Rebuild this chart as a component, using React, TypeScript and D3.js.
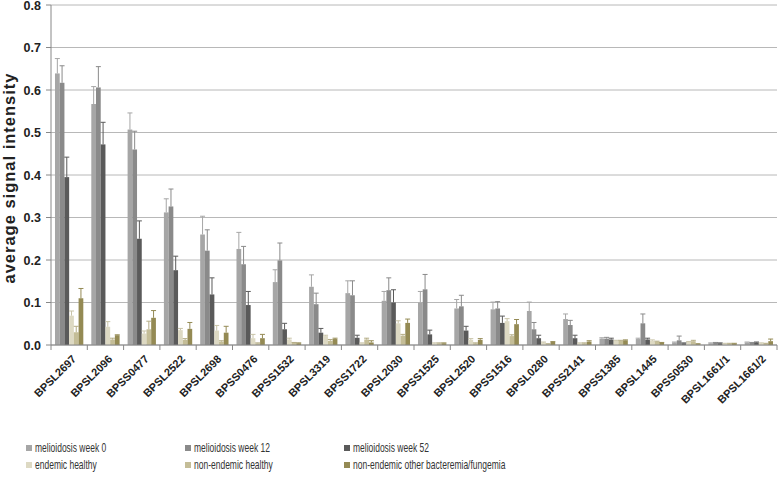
import * as d3 from "d3"

const categories = [
  "BPSL2697", "BPSL2096", "BPSS0477", "BPSL2522", "BPSL2698", "BPSS0476", "BPSS1532",
  "BPSL3319", "BPSS1722", "BPSL2030", "BPSS1525", "BPSL2520", "BPSS1516", "BPSL0280",
  "BPSS2141", "BPSS1385", "BPSL1445", "BPSS0530", "BPSL1661/1", "BPSL1661/2",
]

const seriesNames = [
  "melioidosis week 0",
  "melioidosis week 12",
  "melioidosis week 52",
  "endemic healthy",
  "non-endemic healthy",
  "non-endemic other bacteremia/fungemia",
]

const week0 = [0.639, 0.567, 0.507, 0.312, 0.26, 0.226, 0.148, 0.137, 0.122, 0.104, 0.1, 0.086, 0.084, 0.08, 0.061, 0.015, 0.014, 0.006, 0.004, 0.006]
const week0Err = [0.035, 0.041, 0.039, 0.032, 0.043, 0.039, 0.029, 0.028, 0.029, 0.022, 0.026, 0.021, 0.017, 0.021, 0.012, 0.002, 0.002, 0.001, 0.001, 0.001]
const week12 = [0.617, 0.606, 0.46, 0.326, 0.222, 0.19, 0.199, 0.096, 0.117, 0.129, 0.131, 0.091, 0.086, 0.037, 0.047, 0.015, 0.051, 0.011, 0.005, 0.005]
const week12Err = [0.04, 0.049, 0.043, 0.041, 0.049, 0.042, 0.041, 0.026, 0.034, 0.029, 0.035, 0.026, 0.016, 0.016, 0.011, 0.003, 0.022, 0.01, 0.001, 0.001]
const week52 = [0.395, 0.472, 0.25, 0.176, 0.119, 0.094, 0.037, 0.029, 0.017, 0.1, 0.025, 0.034, 0.052, 0.016, 0.016, 0.013, 0.013, 0.004, 0.004, 0.006]
const week52Err = [0.047, 0.052, 0.042, 0.033, 0.039, 0.032, 0.014, 0.01, 0.006, 0.03, 0.01, 0.01, 0.016, 0.007, 0.007, 0.003, 0.003, 0.001, 0.001, 0.001]
const endemic = [0.069, 0.043, 0.027, 0.035, 0.034, 0.016, 0.013, 0.021, 0.004, 0.051, 0.004, 0.012, 0.056, 0.006, 0.004, 0.01, 0.01, 0.007, 0.003, 0.004]
const endemicErr = [0.011, 0.012, 0.006, 0.004, 0.012, 0.009, 0.003, 0.002, 0.001, 0.006, 0.001, 0.003, 0.006, 0.001, 0.001, 0.001, 0.002, 0.001, 0.001, 0.001]
const nonEndemic = [0.03, 0.013, 0.037, 0.012, 0.008, 0.004, 0.005, 0.01, 0.013, 0.022, 0.004, 0.004, 0.021, 0.002, 0.004, 0.01, 0.008, 0.009, 0.003, 0.003]
const nonEndemicErr = [0.014, 0.003, 0.019, 0.003, 0.002, 0.001, 0.001, 0.003, 0.003, 0.003, 0.001, 0.001, 0.003, 0.001, 0.001, 0.001, 0.001, 0.002, 0.001, 0.001]
const other = [0.11, 0.023, 0.064, 0.038, 0.029, 0.016, 0.004, 0.014, 0.006, 0.052, 0.004, 0.012, 0.049, 0.007, 0.008, 0.011, 0.005, 0.002, 0.003, 0.009]
const otherErr = [0.023, 0.001, 0.017, 0.015, 0.015, 0.009, 0.001, 0.002, 0.004, 0.009, 0.001, 0.003, 0.011, 0.001, 0.002, 0.001, 0.001, 0.001, 0.001, 0.005]

const yTicks = [0, 0.1, 0.2, 0.3, 0.4, 0.5, 0.6, 0.7, 0.8]

const colors = ["#a6a6a6", "#8a8a8a", "#5a5a5a", "#ddd9c3", "#c4bd97", "#948a54"]
const errColors = ["#a6a6a6", "#8a8a8a", "#5a5a5a", "#c9c4a8", "#b3ab84", "#948a54"]

const values = [week0, week12, week52, endemic, nonEndemic, other]
const errors = [week0Err, week12Err, week52Err, endemicErr, nonEndemicErr, otherErr]

const W = 780
const H = 480
const left = 51
const right = 777
const top = 5
const bottom = 345

export default function App() {
  const x = d3.scaleBand<string>().domain(categories).range([left, right])
  const bw = x.bandwidth()
  const xs = d3.scaleBand<number>()
    .domain(d3.range(seriesNames.length))
    .range([bw * 0.11, bw * 0.89])
  const y = d3.scaleLinear().domain([0, 0.8]).range([bottom, top])

  const font = "'Liberation Sans', Arial, sans-serif"

  return (
    <svg width={W} height={H} style={{ position: "absolute", left: 0, top: 0, background: "#fff" }}>
      {/* grid */}
      {yTicks.map(t => (
        <line key={"g" + t} x1={left} x2={right} y1={y(t)} y2={y(t)} stroke="#b8b8b8" strokeWidth={1} />
      ))}
      {/* bars */}
      {values.map((vals, si) => (
        <g key={"s" + si}>
          {categories.map((c, ci) => {
            const bx = x(c)! + xs(si)!
            const w = xs.bandwidth()
            return (
              <rect key={c} x={bx} y={y(vals[ci])} width={w} height={bottom - y(vals[ci])} fill={colors[si]} />
            )
          })}
        </g>
      ))}
      {/* error bars */}
      {values.map((vals, si) => (
        <g key={"e" + si} stroke={errColors[si]} strokeWidth={1}>
          {categories.map((c, ci) => {
            const cx = x(c)! + xs(si)! + xs.bandwidth() / 2
            const y0 = y(vals[ci])
            const y1 = y(vals[ci] + errors[si][ci])
            return (
              <g key={c}>
                <line x1={cx} x2={cx} y1={y0} y2={y1} />
                <line x1={cx - 2.5} x2={cx + 2.5} y1={y1} y2={y1} />
              </g>
            )
          })}
        </g>
      ))}
      {/* y axis */}
      <line x1={left} x2={left} y1={top} y2={bottom} stroke="#888" />
      {yTicks.map(t => (
        <g key={"t" + t}>
          <line x1={left - 5} x2={left} y1={y(t)} y2={y(t)} stroke="#888" />
          <text x={41} y={y(t)} dy="0.36em" textAnchor="end" fontFamily={font} fontWeight="bold" fontSize={12.5} fill="#222">
            {d3.format(".1f")(t)}
          </text>
        </g>
      ))}
      <text
        transform={`translate(15,${(top + bottom) / 2 + 3}) rotate(-90)`}
        textAnchor="middle"
        fontFamily={font}
        fontWeight="bold"
        fontSize={16.5}
        letterSpacing={1}
        fill="#222"
      >
        average signal intensity
      </text>
      {/* x axis */}
      <line x1={left} x2={right} y1={bottom} y2={bottom} stroke="#888" />
      {[...categories.map(c => x(c)!), right].map((px, i) => (
        <line key={"xt" + i} x1={px} x2={px} y1={bottom} y2={bottom + 5} stroke="#888" />
      ))}
      {categories.map(c => {
        const cx = x(c)! + bw / 2 + 5
        return (
          <text
            key={"l" + c}
            transform={`translate(${cx},${bottom + 12}) rotate(-45)`}
            textAnchor="end"
            dy="0.35em"
            fontFamily={font}
            fontWeight="bold"
            fontSize={11}
            fill="#222"
          >
            {c}
          </text>
        )
      })}
      {/* legend */}
      {seriesNames.map((name, i) => {
        const col = i % 3
        const row = Math.floor(i / 3)
        const lx = [29, 188, 347][col]
        const ly = [448, 465][row]
        return (
          <g key={"lg" + i}>
            <rect x={lx - 3} y={ly - 3} width={6} height={6} fill={colors[i]} />
            <g transform={`translate(${lx + 6},${ly}) scale(0.68,1)`}>
              <text x={0} y={0} dy="0.35em" fontFamily={font} fontSize={12.5} fill="#333">
                {name}
              </text>
            </g>
          </g>
        )
      })}
    </svg>
  )
}
